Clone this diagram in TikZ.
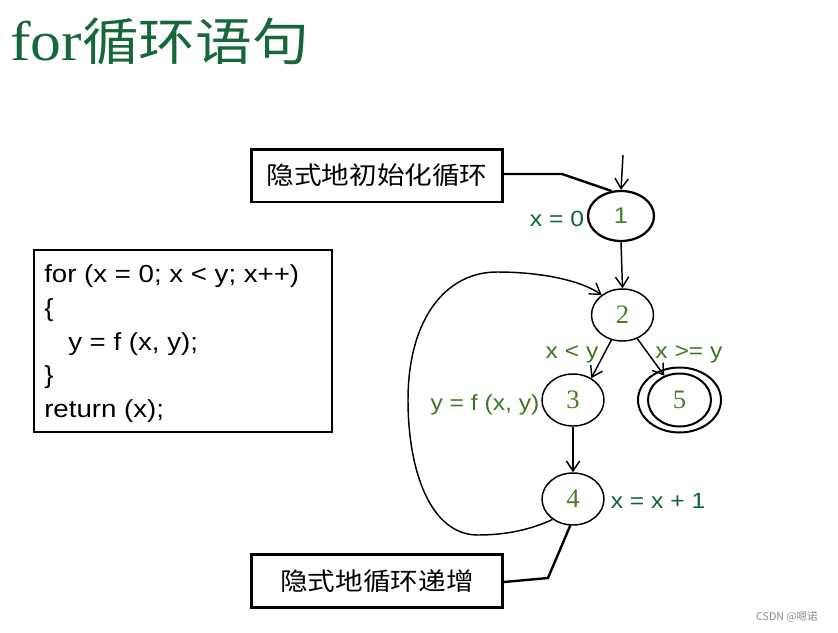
\documentclass[tikz,border=0pt]{standalone}
\usepackage{fontspec}
\usetikzlibrary{shapes.geometric,arrows.meta}
\newfontfamily\labfont[FakeStretch=1.12]{Liberation Sans}
\newfontfamily\cjkfont[FakeStretch=1.12]{Noto Sans CJK SC}
\newfontfamily\plaincjk{Noto Sans CJK SC}
\newfontfamily\numfont{Liberation Serif}
\newfontfamily\titlefont[FakeStretch=1.1]{Liberation Serif}
\definecolor{titlegreen}{RGB}{22,104,56}
\definecolor{labgreen}{RGB}{16,100,50}
\definecolor{olivegreen}{RGB}{62,118,35}
\definecolor{numcol}{RGB}{75,125,40}
\begin{document}
\begin{tikzpicture}[x=0.75pt,y=-0.75pt,
  state/.style={ellipse,draw,line width=1.1pt,minimum width=46.5pt,minimum height=39pt,inner sep=0pt,
    font=\numfont\fontsize{20}{20}\selectfont,text=numcol},
  callbox/.style={rectangle,draw,line width=2pt,minimum width=188.25pt,minimum height=39.5pt,inner sep=0pt,
    font=\cjkfont\fontsize{18.5}{18.5}\selectfont},
  lab/.style={font=\labfont\fontsize{16.5}{16.5}\selectfont,anchor=base,inner sep=0pt},
  codeline/.style={font=\labfont\fontsize{18.5}{18.5}\selectfont,anchor=base west,inner sep=0pt},
  arr/.style={-{Straight Barb[length=7.5pt,width=10pt]},line width=1.1pt},
  leader/.style={line width=1.8pt}]
\useasboundingbox (0,0) rectangle (838,632);

% title
\node[anchor=base west,inner sep=0pt,text=titlegreen] (title) at (10,60)
  {{\titlefont\fontsize{42}{42}\selectfont for}{\cjkfont\fontsize{38}{38}\selectfont 循环语句}};

% code box
\node[draw,line width=2pt,minimum width=223.5pt,minimum height=136.5pt,inner sep=0pt] (code) at (183,341) {};
\node[codeline] (c1) at (44,282) {for (x = 0; x < y; x++)};
\node[codeline] (c2) at (44,316) {\{};
\node[codeline] (c3) at (68,350) {y = f (x, y);};
\node[codeline] (c4) at (44,383) {\}};
\node[codeline] (c5) at (44,417) {return (x);};

% callout boxes
\node[callbox] (b1) at (377,175.5) {隐式地初始化循环};
\node[callbox] (b2) at (377,581) {隐式地循环递增};

% states
\node[state,line width=1.7pt,minimum width=49.5pt,minimum height=37.5pt,
      font=\labfont\fontsize{17}{17}\selectfont] (n1) at (621,216) {1};
\node[state] (n2) at (622.5,315) {2};
\node[state] (n3) at (573,400) {3};
\node[state] (n4) at (573,499) {4};
\node[ellipse,draw,line width=1.5pt,minimum width=62.25pt,minimum height=48.75pt,inner sep=0pt] (n5o) at (679.5,400) {};
\node[state,line width=1.5pt,minimum width=47.25pt,minimum height=39.75pt] (n5i) at (679.5,400) {5};

% labels
\node[lab,text=labgreen] (l1) at (557,226) {x = 0};
\node[lab,text=olivegreen] (l2) at (572,358) {x < y};
\node[lab,text=olivegreen] (l3) at (689,358) {x >= y};
\node[lab,text=olivegreen] (l4) at (485,410) {y = f (x, y)};
\node[lab,text=labgreen] (l5) at (658,508) {x = x + 1};

% connectors
\coordinate (start) at (623,155);
\draw[arr] (start) -- (n1.north);
\draw[arr] (n1.south) -- (n2.north);
\draw[arr] (n2.246) -- (n3.50);
\draw[arr] (n2.302) -- (n5i.122);
\draw[arr] (n3.south) -- (n4.north);
\draw[arr] (n4.225) .. controls (530,530) and (505,535) .. (478,535)
  .. controls (430,535) and (408,470) .. (408,400)
  .. controls (408,320) and (445,272) .. (497,272)
  .. controls (540,272) and (580,280) .. (n2.136);

% leader lines
\coordinate (k1) at (562,174);
\draw[leader] (b1.east |- 0,174) -- (k1) -- (n1.111);
\coordinate (k2) at (548,578);
\draw[leader] (b2.east |- 0,582) -- (k2) -- (n4.264);

% watermark
\node[inner sep=0pt,text=black!45,font=\plaincjk\fontsize{8}{8}\selectfont] (wm) at (787,617) {CSDN @嗯诺};
\end{tikzpicture}
\end{document}
